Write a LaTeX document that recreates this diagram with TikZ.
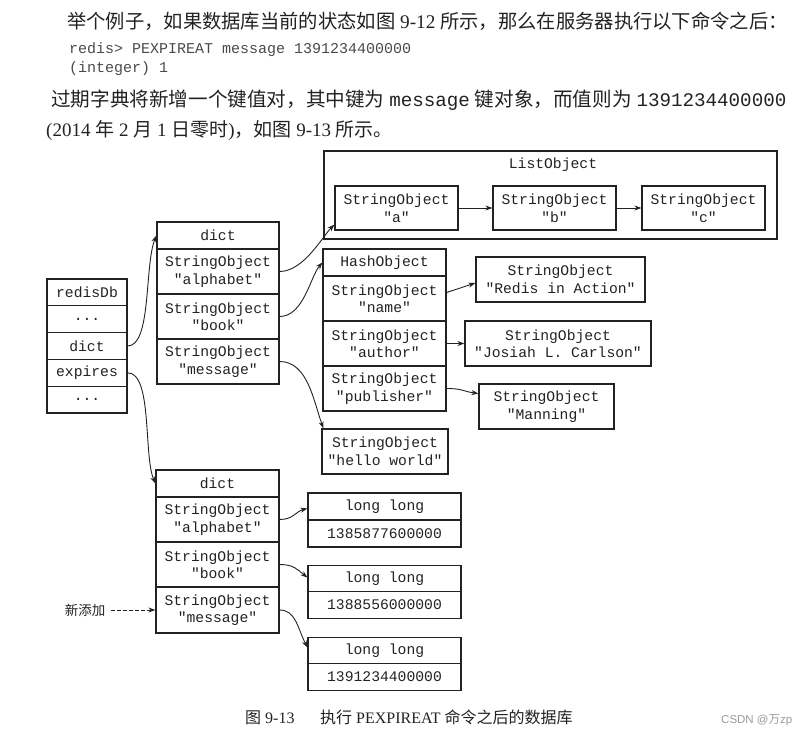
\documentclass[tikz,border=0pt]{standalone}
\usepackage{fontspec}
\setmainfont{Liberation Serif}
\newfontfamily\monof{Liberation Mono}
\newfontfamily\cjkf{Noto Sans CJK SC}
\newfontfamily\sansf{Liberation Sans}
\usetikzlibrary{arrows.meta,calc}
\definecolor{ink}{HTML}{222222}
\definecolor{codegray}{HTML}{4A4A4A}
\definecolor{wmgray}{HTML}{9A9A9A}
\begin{document}
\begin{tikzpicture}[x=1pt,y=-1pt,
  cell/.style={draw=ink, line width=1.2pt, inner sep=0pt, text=ink, align=center,
    font=\monof\fontsize{14.7}{17.5}\selectfont},
  hdr/.style={cell, minimum height=27pt},
  krow/.style={cell, minimum height=45pt},
  dbrow/.style={cell, minimum width=80pt, minimum height=26.8pt},
  arr/.style={draw=ink, line width=0.9pt, -{Stealth[length=7pt,width=5pt]}},
  para/.style={anchor=base west, inner sep=0pt, text=ink},
]
\useasboundingbox (0,0) rectangle (803,735);

% ---------- paragraph text ----------
\node[para, font=\fontsize{19.3}{19.3}\selectfont] (l1) at (67,29)
  {{\cjkf 举个例子，如果数据库当前的状态如图} 9-12 {\cjkf 所示，那么在服务器执行以下命令之后：}};
\node[para, text=codegray, font=\monof\fontsize{15}{15}\selectfont] (l2) at (69,54)
  {redis> PEXPIREAT message 1391234400000};
\node[para, text=codegray, font=\monof\fontsize{15}{15}\selectfont] (l3) at (69,73)
  {(integer) 1};
\node[para, font=\fontsize{19.6}{19.6}\selectfont] (l4) at (51,107)
  {{\cjkf 过期字典将新增一个键值对，其中键为} {\monof\fontsize{19.2}{19.2}\selectfont message} {\cjkf 键对象，而值则为} {\monof\fontsize{19.2}{19.2}\selectfont 1391234400000}};
\node[para, font=\fontsize{19}{19}\selectfont] (l5) at (46,137)
  {(2014 {\cjkf 年} 2 {\cjkf 月} 1 {\cjkf 日零时}){\cjkf ，如图} 9-13 {\cjkf 所示。}};

% ---------- ListObject ----------
\node[draw=ink, line width=1.2pt, minimum width=453pt, minimum height=88pt, inner sep=0pt] (lobj) at (550.5,195) {};
\node[text=ink, inner sep=0pt, font=\monof\fontsize{14.7}{17.5}\selectfont] (lobjlbl) at (553,165) {ListObject};
\node[krow, minimum width=123pt, minimum height=44pt] (la) at (396.5,208) {StringObject\\"a"};
\node[krow, minimum width=123pt, minimum height=44pt] (lb) at (554.5,208) {StringObject\\"b"};
\node[krow, minimum width=123pt, minimum height=44pt] (lc) at (703.5,208) {StringObject\\"c"};

% ---------- redisDb ----------
\node[dbrow] (rdb) at (87,292.4) {redisDb};
\node[dbrow] (rdots1) at (87,319.2) {...};
\node[dbrow] (rdict) at (87,346) {dict};
\node[dbrow] (rexp) at (87,372.8) {expires};
\node[dbrow] (rdots2) at (87,399.6) {...};

% ---------- top dict ----------
\node[hdr, minimum width=122pt] (d1h) at (218,235.5) {dict};
\node[krow, minimum width=122pt] (d1a) at (218,271.5) {StringObject\\"alphabet"};
\node[krow, minimum width=122pt] (d1b) at (218,316.5) {StringObject\\"book"};
\node[krow, minimum width=122pt] (d1m) at (218,361.5) {StringObject\\"message"};

% ---------- HashObject ----------
\node[hdr, minimum width=123pt] (hh) at (384.5,262.5) {HashObject};
\node[krow, minimum width=123pt] (hn) at (384.5,298.5) {StringObject\\"name"};
\node[krow, minimum width=123pt] (ha) at (384.5,343.5) {StringObject\\"author"};
\node[krow, minimum width=123pt] (hp) at (384.5,388.5) {StringObject\\"publisher"};

\node[krow, minimum width=169pt] (ria) at (560.5,279.5) {StringObject\\"Redis in Action"};
\node[krow, minimum width=186pt] (jlc) at (558,343.5) {StringObject\\"Josiah L. Carlson"};
\node[krow, minimum width=135pt] (man) at (546.5,406.5) {StringObject\\"Manning"};
\node[krow, minimum width=126pt] (hw) at (385,451.5) {StringObject\\"hello world"};

% ---------- expires dict ----------
\node[hdr, minimum width=123pt] (d2h) at (217.5,483.5) {dict};
\node[krow, minimum width=123pt] (d2a) at (217.5,519.5) {StringObject\\"alphabet"};
\node[krow, minimum width=123pt] (d2b) at (217.5,564.5) {StringObject\\"book"};
\node[krow, minimum width=123pt, minimum height=46pt] (d2m) at (217.5,610) {StringObject\\"message"};

\node[hdr, minimum width=153pt] (l1h) at (384.5,506.5) {long long};
\node[hdr, minimum width=153pt] (l1v) at (384.5,533.5) {1385877600000};
\node[hdr, minimum width=153pt, minimum height=26.5pt] (l2h) at (384.5,578.5) {long long};
\node[hdr, minimum width=153pt, minimum height=26.5pt] (l2v) at (384.5,605) {1388556000000};
\node[hdr, minimum width=153pt, minimum height=26.5pt] (l3h) at (384.5,650.5) {long long};
\node[hdr, minimum width=153pt, minimum height=26.5pt] (l3v) at (384.5,677) {1391234400000};

\node[text=ink, inner sep=0pt, font=\cjkf\fontsize{13.5}{13.5}\selectfont] (xtj) at (85,610) {新添加};

% ---------- connectors ----------
\draw[arr] (la) -- (lb);
\draw[arr] (lb) -- (lc);
\draw[arr] (rdict.east) .. controls +(24,0) and +(-12,30) .. (d1h.west);
\draw[arr] (rexp.east) .. controls +(25,0) and +(-12,-28) .. (d2h.west);
\draw[arr] (d1a.east) .. controls +(24,0) and +(-12,12) .. ($(la.south west)+(0,-6)$);
\draw[arr] (d1b.east) .. controls +(24,0) and +(-12,14) .. (hh.west);
\draw[arr] (d1m.east) .. controls +(28,0) and +(-10,-28) .. ($(hw.north west)+(2,0)$);
\draw[arr] ($(hn.east)+(0,-6)$) -- ($(ria.west)+(0,3.5)$);
\draw[arr] (ha.east) -- (jlc.west);
\draw[arr] (hp.east) .. controls +(16,0) and +(-15,-2) .. ($(man.west)+(0,-13)$);
\draw[arr] (d2a.east) .. controls +(14,0) and +(-12,3) .. ($(l1h.west)+(0,2)$);
\draw[arr] (d2b.east) .. controls +(14,0) and +(-10,-8) .. ($(l2h.west)+(0,-1)$);
\draw[arr] (d2m.east) .. controls +(16,0) and +(-10,-20) .. ($(l3h.west)+(0,-3)$);
\draw[arr, dash pattern=on 3.5pt off 2.5pt] ([xshift=6pt]xtj.east) -- (d2m.west);

% ---------- caption ----------
\node[para, font=\fontsize{16}{16}\selectfont] (cap) at (245,723)
  {{\cjkf 图} 9-13\hspace{1.6em}{\cjkf 执行} PEXPIREAT {\cjkf 命令之后的数据库}};
\node[para, text=wmgray, font=\sansf\fontsize{11.5}{11.5}\selectfont] (wm) at (721,723)
  {CSDN @{\cjkf 万}zp};
\end{tikzpicture}
\end{document}
